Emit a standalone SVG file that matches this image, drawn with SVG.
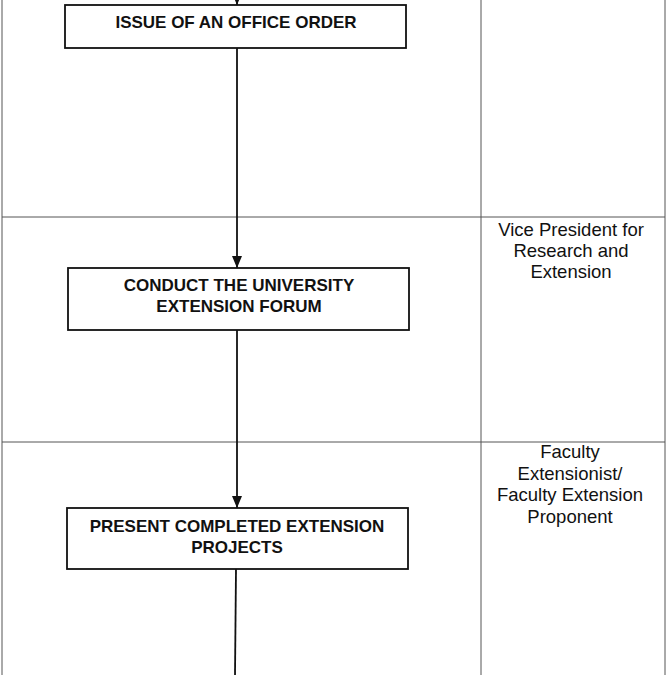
<svg xmlns="http://www.w3.org/2000/svg" width="667" height="675" viewBox="0 0 667 675">
<defs>
<marker id="arr" markerWidth="12" markerHeight="10" refX="12" refY="5" orient="auto" markerUnits="userSpaceOnUse" viewBox="0 0 12 10">
<path d="M0,0 L12,5 L0,10 Z" fill="#111"/>
</marker>
</defs>
<style>
.grid{stroke:#555;stroke-width:1;fill:none}
.box{fill:#fff;stroke:#111;stroke-width:1.8}
.bt{font-family:"Liberation Sans",Arial,sans-serif;font-weight:bold;font-size:17px;fill:#111;text-anchor:middle}
.rt{font-family:"Liberation Sans",Arial,sans-serif;font-size:18.5px;fill:#111;text-anchor:middle}
.con{stroke:#111;stroke-width:1.8;fill:none}
</style>
<rect width="667" height="675" fill="#fff"/>
<g id="grid">
<line class="grid" x1="2" y1="0" x2="2" y2="675"/>
<line class="grid" x1="665" y1="0" x2="665" y2="675"/>
<line class="grid" x1="481" y1="0" x2="481" y2="675"/>
<line class="grid" x1="2" y1="217" x2="665" y2="217"/>
<line class="grid" x1="2" y1="442" x2="665" y2="442"/>
</g>
<g id="connectors">
<line class="con" x1="237" y1="-10" x2="237" y2="5" marker-end="url(#arr)"/>
<line class="con" x1="237" y1="48" x2="237" y2="268" marker-end="url(#arr)"/>
<line class="con" x1="237" y1="330" x2="237" y2="508" marker-end="url(#arr)"/>
<line class="con" x1="236" y1="569" x2="235" y2="675"/>
</g>
<g id="node1">
<rect class="box" x="65" y="5" width="341" height="43"/>
<text class="bt" x="236" y="28">ISSUE OF AN OFFICE ORDER</text>
</g>
<g id="node2">
<rect class="box" x="68" y="268" width="341" height="62"/>
<text class="bt" x="239" y="291">CONDUCT THE UNIVERSITY</text>
<text class="bt" x="239" y="312">EXTENSION FORUM</text>
</g>
<g id="node3">
<rect class="box" x="67" y="508" width="341" height="61"/>
<text class="bt" x="237" y="532">PRESENT COMPLETED EXTENSION</text>
<text class="bt" x="237" y="553">PROJECTS</text>
</g>
<g id="label1">
<text class="rt" x="571" y="236">Vice President for</text>
<text class="rt" x="571" y="257">Research and</text>
<text class="rt" x="571" y="278">Extension</text>
</g>
<g id="label2">
<text class="rt" x="570" y="458">Faculty</text>
<text class="rt" x="570" y="480">Extensionist/</text>
<text class="rt" x="570" y="501">Faculty Extension</text>
<text class="rt" x="570" y="523">Proponent</text>
</g>
</svg>
